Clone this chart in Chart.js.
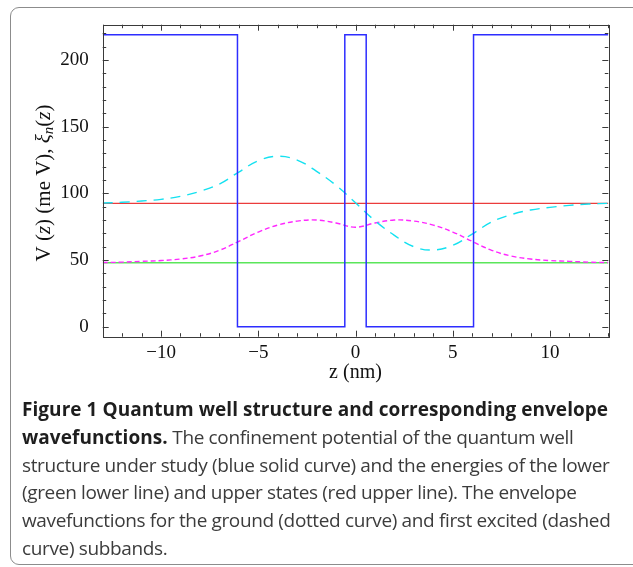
<!DOCTYPE html>
<html>
<head>
<meta charset="utf-8">
<script src="https://cdn.jsdelivr.net/npm/chart.js@4.4.1/dist/chart.umd.min.js"></script>
<style>
  body { margin: 0; background: #fff; width: 633px; height: 567px; overflow: hidden; position: relative; }
  .box { position: absolute; left: 10px; top: 7px; width: 640px; height: 556px; border: 1px solid #8c8c8c; border-radius: 9px; }
  .plot { position: absolute; left: 0; top: 0; width: 633px; height: 400px; }
  .caption { position: absolute; left: 22px; top: 396px; font-family: "Open Sans", sans-serif; font-size: 19px; line-height: 27.8px; color: #3c3c3c; white-space: nowrap; letter-spacing: -0.36px; }
  .caption b { color: #1e1e1e; font-weight: 700; letter-spacing: 0.05px; }
</style>
</head>
<body>
<div class="box"></div>
<div class="plot"><canvas id="chart" width="633" height="400"></canvas></div>
<div class="caption">
  <b>Figure 1 Quantum well structure and corresponding envelope<br>wavefunctions.</b> The confinement potential of the quantum well<br>
  structure under study (blue solid curve) and the energies of the lower<br>
  (green lower line) and upper states (red upper line). The envelope<br>
  wavefunctions for the ground (dotted curve) and first excited (dashed<br>
  curve) subbands.
</div>
<script>
// z grid (nm) for the envelope curves
const zGrid = [-13, -12, -11, -10, -9, -8, -7, -6, -5, -4, -3, -2, -1, 0,
               1, 2, 3, 4, 5, 6, 7, 8, 9, 10, 11, 12, 13];
// first excited subband (cyan dashed)
const excitedWave = [92.8, 93.3, 94.3, 95.5, 97.8, 101.5, 107, 116, 124.5, 127.8, 125, 116.5, 106, 93,
                     79.5, 68.5, 60, 57.5, 61, 69.5, 78.5, 84, 87.5, 89.5, 91, 92, 92.5];
// ground subband (magenta dotted)
const groundWave = [48.1, 48.4, 49, 49.6, 50.8, 53, 57.3, 64, 71, 76.2, 79.2, 80, 77.8, 74.6,
                    77.8, 80, 79.2, 76.2, 71, 64, 57.3, 53, 50.8, 49.6, 49, 48.4, 48.1];
// confinement potential V(z) in meV
const zPotential = [-13, -6.07, -6.07, -0.55, -0.55, 0.55, 0.55, 6.07, 6.07, 13];
const vPotential = [219, 219, 0, 0, 219, 219, 0, 0, 219, 219];
// state energies
const zLevel = [-13, 13];
const lowerLevel = [48, 48];
const upperLevel = [92.5, 92.5];
// ticks
const xTicks = [-10, -5, 0, 5, 10];
const yTicks = [0, 50, 100, 150, 200];

const pts = (xs, ys) => xs.map((v, i) => ({ x: v, y: ys[i] }));

const xMinor = [];
for (let v = -13; v <= 13; v++) xMinor.push(v);
const yMinor = [];
for (let v = 0; v <= 220; v += 10) yMinor.push(v);

const frameTicks = {
  id: "frameTicks",
  afterDatasetsDraw(chart) {
    const { ctx, chartArea: a, scales: { x, y } } = chart;
    ctx.save();
    ctx.strokeStyle = "#3a3a3a";
    ctx.lineWidth = 1;
    ctx.strokeRect(Math.round(a.left) + 0.5, Math.round(a.top) + 0.5, Math.round(a.width), Math.round(a.height));
    ctx.beginPath();
    xMinor.forEach(v => {
      const p = Math.round(x.getPixelForValue(v)) + 0.5;
      const len = xTicks.includes(v) ? 6 : 3.5;
      ctx.moveTo(p, a.bottom); ctx.lineTo(p, a.bottom - len);
      ctx.moveTo(p, a.top); ctx.lineTo(p, a.top + len);
    });
    yMinor.forEach(v => {
      const p = Math.round(y.getPixelForValue(v)) + 0.5;
      const len = yTicks.includes(v) ? 6 : 3.5;
      ctx.moveTo(a.left, p); ctx.lineTo(a.left + len, p);
      ctx.moveTo(a.right, p); ctx.lineTo(a.right - len, p);
    });
    ctx.stroke();

    // y axis title with italic parts
    const f = "21px 'Liberation Serif'", fi = "italic 21px 'Liberation Serif'";
    const parts = [
      ["V (", f, 0],
      ["z", fi, 0],
      [") (me V), ", f, 0],
      ["\u03BE", fi, 0],
      ["n", "italic 15px 'Liberation Serif'", 5],
      ["(", f, 0],
      ["z", fi, 0],
      [")", f, 0]
    ];
    let total = 0;
    parts.forEach(p => { ctx.font = p[1]; total += ctx.measureText(p[0]).width; });
    ctx.translate(44, 183);
    ctx.rotate(-Math.PI / 2);
    ctx.fillStyle = "#111";
    ctx.textBaseline = "middle";
    let cx = -total / 2;
    parts.forEach(p => {
      ctx.font = p[1];
      ctx.fillText(p[0], cx, p[2]);
      cx += ctx.measureText(p[0]).width;
    });
    ctx.restore();
  }
};

const line = (label, data, color, width, dash, order, smooth) => ({
  label, data, borderColor: color, borderWidth: width, borderDash: dash,
  showLine: true, pointRadius: 0, tension: smooth ? 0.4 : 0, order, fill: false
});

new Chart(document.getElementById("chart"), {
  type: "scatter",
  data: {
    datasets: [
      line("V(z)", pts(zPotential, vPotential), "rgb(45,45,255)", 1.5, [], 0, false),
      line("upper state", pts(zLevel, upperLevel), "rgb(235,60,60)", 1.2, [], 3, false),
      line("lower state", pts(zLevel, lowerLevel), "rgb(90,230,90)", 1.5, [], 4, false),
      line("first excited", pts(zGrid, excitedWave), "rgb(20,225,240)", 1.4, [10, 7], 1, true),
      line("ground", pts(zGrid, groundWave), "rgb(255,40,255)", 1.4, [5, 3], 2, true)
    ]
  },
  options: {
    responsive: false,
    animation: false,
    devicePixelRatio: 1,
    layout: { padding: { top: 24.7, right: 24.7, bottom: 0, left: 0 } },
    plugins: { legend: { display: false }, tooltip: { enabled: false } },
    scales: {
      x: {
        type: "linear", min: -13, max: 13,
        grid: { display: false }, border: { display: false },
        afterBuildTicks: s => { s.ticks = xTicks.map(v => ({ value: v })); },
        afterFit: s => { s.height = 63.3; },
        ticks: {
          padding: -3, color: "#111", maxRotation: 0,
          font: { family: "'Liberation Serif'", size: 19 },
          callback: v => String(v).replace("-", "\u2212")
        },
        title: { display: true, text: "z (nm)", color: "#111", padding: { top: 0, bottom: 15.6 },
                 font: { family: "'Liberation Serif'", size: 20 } }
      },
      y: {
        type: "linear", min: -7.5, max: 226.5,
        grid: { display: false }, border: { display: false },
        afterBuildTicks: s => { s.ticks = yTicks.map(v => ({ value: v })); },
        afterFit: s => { s.width = 102.7; },
        ticks: { padding: 6, color: "#111", font: { family: "'Liberation Serif'", size: 19 } }
      }
    }
  },
  plugins: [frameTicks]
});
</script>
</body>
</html>
